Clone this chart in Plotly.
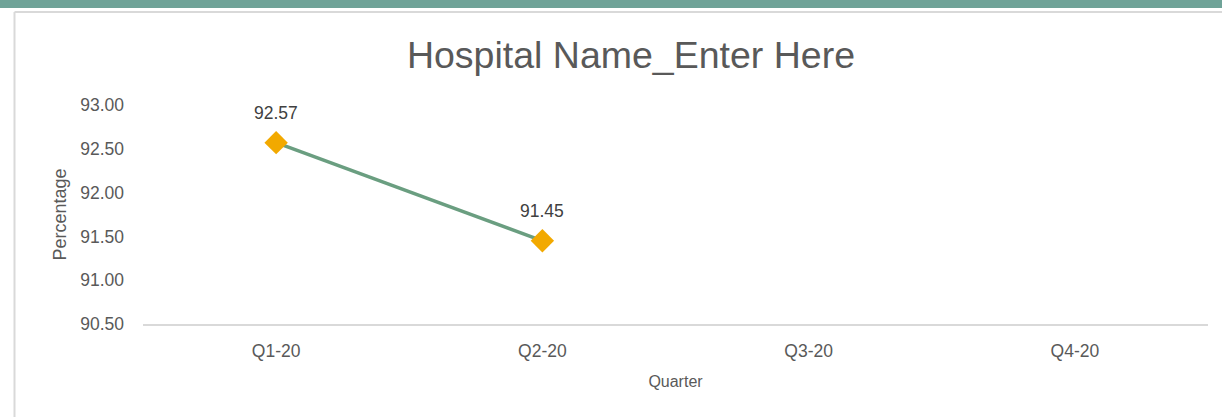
import plotly.graph_objects as go

categories = ["Q1-20", "Q2-20", "Q3-20", "Q4-20"]
values = [92.57, 91.45, None, None]
value_labels = ["92.57", "91.45", "", ""]
y_ticks = [90.5, 91.0, 91.5, 92.0, 92.5, 93.0]
y_tick_labels = ["90.50", "91.00", "91.50", "92.00", "92.50", "93.00"]

W, H = 1222, 417
L, R, T, B = 143, 14, 105, 93
FONT = "Liberation Sans, Arial, sans-serif"
TXT = "#595959"

fig = go.Figure()
fig.add_trace(go.Scatter(
    x=categories, y=values, mode="lines+markers",
    line=dict(color="#6A9E80", width=3.5),
    marker=dict(symbol="diamond", size=18, color="#F2A900"),
    cliponaxis=False, showlegend=False, hoverinfo="x+y",
))

for c, v, t in zip(categories, values, value_labels):
    if v is None:
        continue
    fig.add_annotation(x=c, y=v, text=t, showarrow=False, yshift=30,
                       font=dict(size=17.5, color="#404040", family=FONT))

pw, ph = W - L - R, H - T - B
fig.update_layout(
    width=W, height=H,
    margin=dict(l=L, r=R, t=T, b=B),
    paper_bgcolor="white", plot_bgcolor="white",
    font=dict(family=FONT, color=TXT),
    title=dict(text="Hospital Name_Enter Here", x=631 / W, xanchor="center",
               y=1 - 55 / H, yanchor="middle",
               font=dict(size=37.5, color=TXT, family=FONT)),
    xaxis=dict(type="category", categoryorder="array", categoryarray=categories,
               range=[-0.5, 3.5], showgrid=False, zeroline=False,
               showline=True, linecolor="#D9D9D9", linewidth=2,
               ticks="", tickfont=dict(size=17.5, color=TXT),
               ticklabelstandoff=10,
               title=dict(text="Quarter", font=dict(size=16, color=TXT), standoff=16)),
    yaxis=dict(range=[90.5, 93.0], tickvals=y_ticks, ticktext=y_tick_labels,
               showgrid=False, zeroline=False, showline=False, ticks="",
               tickfont=dict(size=17.5, color=TXT), ticklabelstandoff=18,
               title=dict(text="Percentage", font=dict(size=18, color=TXT), standoff=8)),
)

# teal band at the top of the page
fig.add_shape(type="rect", xref="paper", yref="paper",
              x0=-L / pw, x1=1 + R / pw, y0=(H - 8 - B) / ph, y1=(H + 2 - B) / ph,
              line=dict(width=0), fillcolor="#6FA398", layer="above")
# chart-area border (top and left)
fig.add_shape(type="line", xref="paper", yref="paper",
              x0=(14.5 - L) / pw, x1=(W - L) / pw,
              y0=(H - 12 - B) / ph, y1=(H - 12 - B) / ph,
              line=dict(color="#D9D9D9", width=2))
fig.add_shape(type="line", xref="paper", yref="paper",
              x0=(14.5 - L) / pw, x1=(14.5 - L) / pw,
              y0=(0 - B) / ph, y1=(H - 12 - B) / ph,
              line=dict(color="#D9D9D9", width=2))

fig.write_html("out.html", config={"displayModeBar": False},
               post_script="document.body.style.margin='0';")
